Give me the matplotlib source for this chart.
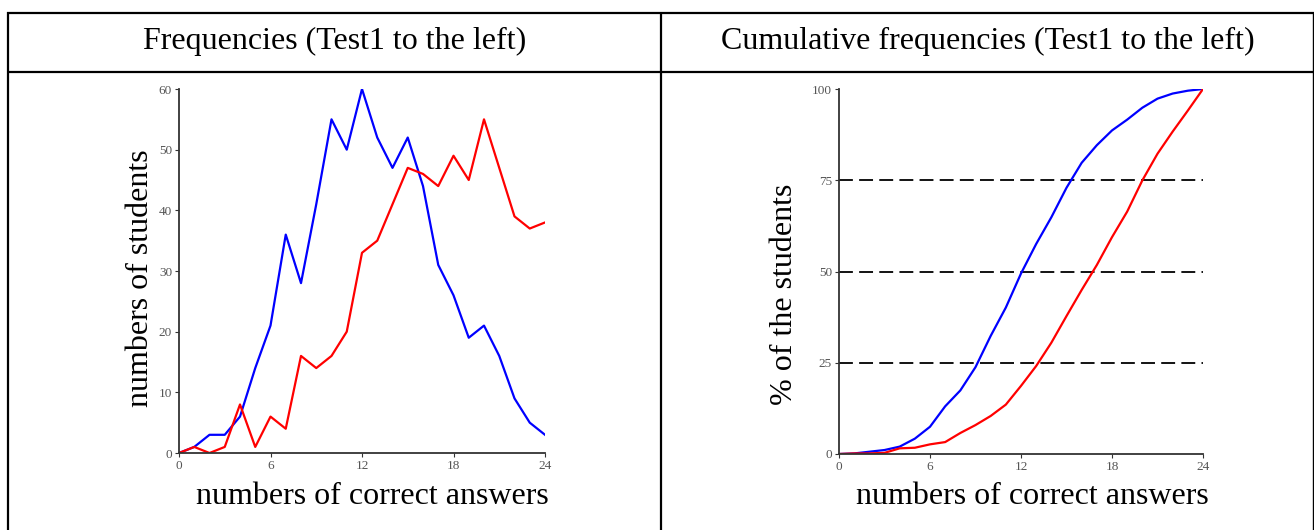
import numpy as np
import matplotlib
matplotlib.use("Agg")
import matplotlib.pyplot as plt
from matplotlib.lines import Line2D

plt.rcParams['font.family'] = ['Liberation Serif', 'DejaVu Serif']
plt.rcParams['lines.scale_dashes'] = False

# ---- data ----
answers = list(range(0, 25))
test1_freq = [0, 1, 3, 3, 6, 14, 21, 36, 28, 41, 55, 50, 60, 52, 47, 52, 44,
              31, 26, 19, 21, 16, 9, 5, 3]
test2_freq = [0, 1, 0, 1, 8, 1, 6, 4, 16, 14, 16, 20, 33, 35, 41, 47, 46,
              44, 49, 45, 55, 47, 39, 37, 38]
freq_yticks = [0, 10, 20, 30, 40, 50, 60]
cum_yticks = [0, 25, 50, 75, 100]
quartiles = [25, 50, 75]
xticks = [0, 6, 12, 18, 24]
titles = ["Frequencies (Test1 to the left)", "Cumulative frequencies (Test1 to the left)"]
xlabel = "numbers of correct answers"
ylabels = ["numbers of students", "% of the students"]

test1_cum = np.cumsum(test1_freq) / np.sum(test1_freq) * 100
test2_cum = np.cumsum(test2_freq) / np.sum(test2_freq) * 100

W, H = 1314, 530
fig = plt.figure(figsize=(W / 100, H / 100), dpi=100)


def fx(x):
    return x / W


def fy(y):
    return 1 - y / H


def axes_px(x0, y0, x1, y1):
    return fig.add_axes([fx(x0), fy(y1), (x1 - x0) / W, (y1 - y0) / H])


# table lines
def hline(y, x0, x1, lw):
    fig.add_artist(Line2D([fx(x0), fx(x1)], [fy(y), fy(y)], color='black', lw=lw,
                          transform=fig.transFigure, solid_capstyle='butt'))


def vline(x, y0, y1, lw):
    fig.add_artist(Line2D([fx(x), fx(x)], [fy(y0), fy(y1)], color='black', lw=lw,
                          transform=fig.transFigure, solid_capstyle='butt'))


hline(13, 6.5, 1314, 1.6)
hline(72, 6.5, 1314, 1.6)
vline(7.5, 12, 531, 1.6)
vline(661, 12, 531, 1.6)
vline(1312.5, 12, 531, 1.0)

tick_color = '#555555'
spine_color = '#333333'
big = 23


def style(ax):
    for s in ['top', 'right']:
        ax.spines[s].set_visible(False)
    for s in ['left', 'bottom']:
        ax.spines[s].set_color(spine_color)
        ax.spines[s].set_linewidth(1.3)
    ax.tick_params(axis='both', which='major', labelsize=9.5, labelcolor=tick_color,
                   color=spine_color, length=3, width=0.8, pad=2)
    ax.set_xlim(0, 24)
    ax.set_xticks(xticks)


# left chart
ax1 = axes_px(179, 89, 545, 453)
ax1.plot(answers, test1_freq, color='#0000ff', lw=1.6)
ax1.plot(answers, test2_freq, color='#ff0000', lw=1.6)
ax1.set_ylim(0, 60)
ax1.set_yticks(freq_yticks)
style(ax1)

# right chart
ax2 = axes_px(839, 89, 1203, 454)
for q in quartiles:
    ax2.axhline(q, color='black', lw=1.3, dashes=(10, 4.5))
ax2.plot(answers, test1_cum, color='#0000ff', lw=1.6)
ax2.plot(answers, test2_cum, color='#ff0000', lw=1.6)
ax2.set_ylim(0, 100)
ax2.set_yticks(cum_yticks)
style(ax2)

# header texts
fig.text(fx(334.5), fy(41), titles[0], ha='center', va='center', fontsize=big)
fig.text(fx(988), fy(41), titles[1], ha='center', va='center', fontsize=big)

# axis labels
fig.text(fx(372), fy(497), xlabel, ha='center', va='center', fontsize=big)
fig.text(fx(1032), fy(497), xlabel, ha='center', va='center', fontsize=big)
fig.text(fx(140), fy(278), ylabels[0], ha='center', va='center', rotation=90, fontsize=big)
fig.text(fx(785), fy(294), ylabels[1], ha='center', va='center', rotation=90, fontsize=big)

fig.savefig("out.png", dpi=100)
